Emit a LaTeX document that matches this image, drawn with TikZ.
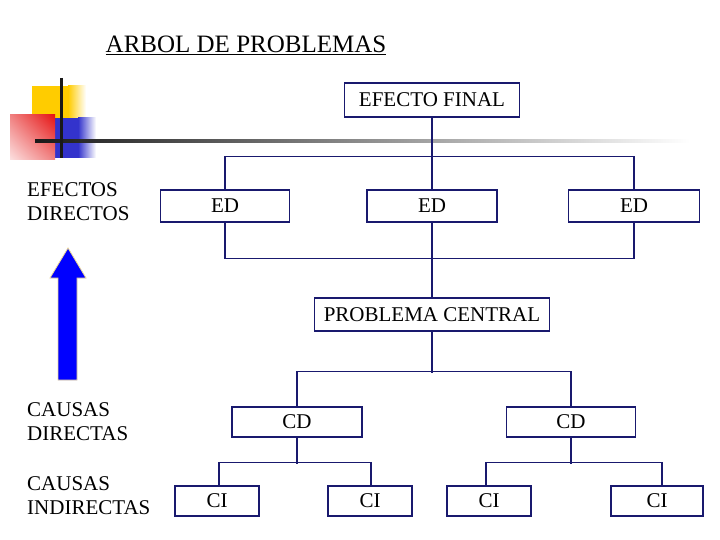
\documentclass[tikz,border=0pt]{standalone}
\usepackage{fontspec}
\setmainfont{Liberation Serif}
\usetikzlibrary{shadings}
\definecolor{navy}{RGB}{25,25,110}
\definecolor{yel}{RGB}{255,204,0}
\definecolor{blu}{RGB}{51,51,204}
\definecolor{arrowblue}{RGB}{0,0,255}
\definecolor{arrowedge}{RGB}{235,215,150}
\definecolor{redA}{RGB}{230,20,20}
\definecolor{redB}{RGB}{240,130,130}
\definecolor{redC}{RGB}{252,225,225}
\begin{document}
\begin{tikzpicture}[x=1bp,y=-1bp,
  box/.style={draw=navy, line width=1.1bp, inner sep=0pt, minimum height=#1,
              font=\fontsize{21bp}{24bp}\selectfont},
  box/.default=32bp,
  lbl/.style={anchor=west, align=left, inner sep=0pt, font=\fontsize{21bp}{24bp}\selectfont},
  conn/.style={draw=navy, line width=1.1bp}]
\useasboundingbox (0,0) rectangle (720,540);

% decoration
\fill[yel] (32,86) rectangle (68,135);
\shade[left color=yel, right color=white] (68,86) rectangle (86,135);
\fill[blu] (42,118) rectangle (78,158);
\shade[left color=blu, right color=white] (78,118) rectangle (96,158);
\shade[upper right=redA, upper left=redB, lower right=redB, lower left=redC] (10,115) rectangle (55,160);
\shade[left color=black!90, middle color=black!45, right color=white] (35,139.5) rectangle (690,142.5);
\draw[line width=3bp, black!90] (61,78) -- (61,158);

% title
\node[inner sep=0pt, anchor=base, font=\fontsize{25bp}{28bp}\selectfont] (title) at (246,53) {\underline{ARBOL DE PROBLEMAS}};

% arrow
\draw[fill=arrowblue, draw=arrowedge, line width=0.8bp]
  (58,380) -- (58,278) -- (50,278) -- (68,248) -- (86,278) -- (77,278) -- (77,380) -- cycle;

% left labels
\node[lbl] (efd) at (27,202) {EFECTOS\\DIRECTOS};
\node[lbl] (cad) at (27,422) {CAUSAS\\DIRECTAS};
\node[lbl] (cai) at (27,496) {CAUSAS\\INDIRECTAS};

% boxes
\node[box=34bp, minimum width=175bp] (ef) at (432,100) {EFECTO FINAL};
\node[box, minimum width=129bp] (ed1) at (225,206) {ED};
\node[box, minimum width=130bp] (ed2) at (432,206) {ED};
\node[box, minimum width=131bp] (ed3) at (634,206) {ED};
\node[box=33bp, minimum width=235bp] (pc) at (432,314.5) {PROBLEMA CENTRAL};
\node[box=30bp, minimum width=130bp] (cd1) at (297,422) {CD};
\node[box=30bp, minimum width=129bp] (cd2) at (571,422) {CD};
\node[box=30bp, minimum width=84bp] (ci1) at (217,501) {CI};
\node[box=30bp, minimum width=84bp] (ci2) at (370,501) {CI};
\node[box=30bp, minimum width=84bp] (ci3) at (489,501) {CI};
\node[box=30bp, minimum width=92bp] (ci4) at (657,501) {CI};

% connectors
\draw[conn] (ef.south) -- (ed2.north);
\draw[conn] (ed1.north) -- ++(0,-33) -| (ed3.north);
\draw[conn] (ed1.south) -- ++(0,36) -| (ed3.south);
\draw[conn] (ed2.south) -- (pc.north);
\draw[conn] (pc.south) -- ++(0,41);
\draw[conn] (cd1.north) -- ++(0,-35) -| (cd2.north);
\draw[conn] (cd1.south) -- ++(0,26);
\draw[conn] ([xshift=2bp]ci1.north) -- ++(0,-23) -| ([xshift=1bp]ci2.north);
\draw[conn] (cd2.south) -- ++(0,26);
\draw[conn] ([xshift=-3bp]ci3.north) -- ++(0,-23) -| ([xshift=5bp]ci4.north);
\end{tikzpicture}
\end{document}
